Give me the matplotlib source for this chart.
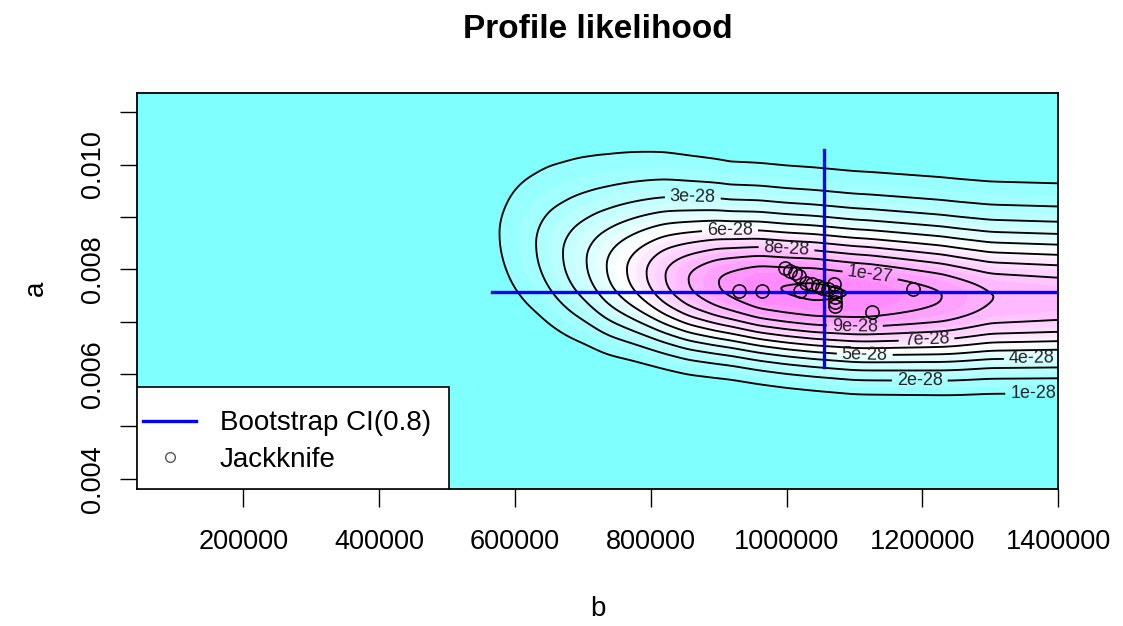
import numpy as np
import matplotlib
matplotlib.use("Agg")
import matplotlib.pyplot as plt
from matplotlib.lines import Line2D
from matplotlib.patches import Rectangle

plt.rcParams["font.family"] = ["Liberation Sans", "DejaVu Sans"]

# ridge of the profile likelihood surface (z in units of 1e-28)
ridge_b = [450e3, 520e3, 579e3, 632e3, 671e3, 706e3, 735e3, 765e3, 794e3, 821e3,
           855e3, 899e3, 960e3, 1040e3, 1120e3, 1230e3, 1300e3, 1400e3]
ridge_z = [0.05, 0.4, 1.0, 2.0, 3.0, 4.0, 5.0, 6.0, 7.0, 8.0,
           9.0, 10.0, 10.9, 11.15, 10.9, 10.0, 9.0, 8.7]
# value of a along the ridge (noses of the contours)
centre_b = [450e3, 579e3, 632e3, 671e3, 706e3, 735e3, 765e3, 794e3, 821e3, 855e3,
            899e3, 1000e3, 1100e3, 1250e3, 1400e3]
centre_a = [0.0090, 0.0087, 0.0085, 0.00831, 0.00818, 0.00807, 0.00800, 0.00794, 0.00788, 0.00781,
            0.00776, 0.00763, 0.00754, 0.00748, 0.00747]
# spread of the surface in a, above and below the ridge
width_b = [450e3, 620e3, 700e3, 770e3, 820e3, 917e3, 1100e3, 1400e3]
width_up = [0.00100, 0.00098, 0.00095, 0.00093, 0.00092, 0.00089, 0.00088, 0.00087]
width_down = [0.00122, 0.00116, 0.00104, 0.00097, 0.00095, 0.00093, 0.00096, 0.00096]
skew_up = [0.12, 0.12, 0.12, 0.11, 0.10, 0.08, 0.08, 0.08]
power_down = 2.25

b_range = (43000, 1400000)
a_range = (0.0038, 0.01136)

line_levels = [1.0, 2.0, 3.0, 4.0, 5.0, 6.0, 7.0, 8.0, 9.0, 10.0, 11.0]
# where each contour label sits (None: no label)
label_b = [1363000, 1196000, 862000, 1361000, 1115000, 916600, 1206000, 1000000, 1100500, 1122800, None]
label_a = [0.00567, 0.0059, 0.009477, 0.006315, 0.0064, 0.008828, 0.006666, 0.008433, 0.00692, 0.007874, None]

# bootstrap CI(0.8) and point estimate
est_b = 1055500
est_a = 0.007574
boot_b = [565700, 1460000]
boot_a = [0.00614, 0.01028]

# jackknife estimates
jack_b = [930000, 964000, 998000, 1005000, 1012000, 1018000, 1020000, 1028000, 1037000,
          1046000, 1052000, 1061000, 1070000, 1071000, 1071000, 1071000, 1071000, 1126000, 1186000]
jack_a = [0.00759, 0.00759, 0.00803, 0.00797, 0.00793, 0.00787, 0.00759, 0.00774, 0.00772,
          0.00768, 0.00765, 0.00763, 0.00772, 0.00757, 0.00747, 0.00738, 0.0073, 0.00719, 0.00763]

xticks = [200000, 400000, 600000, 800000, 1000000, 1200000, 1400000]
yticks = [0.004, 0.005, 0.006, 0.007, 0.008, 0.009, 0.010, 0.011]
ytick_labels = ["0.004", "", "0.006", "", "0.008", "", "0.010", ""]


def smooth(y, n=15):
    w = np.hanning(n)
    w = w / w.sum()
    return np.convolve(np.pad(y, n // 2, mode="edge"), w, mode="valid")


def cm_colors(n):
    # same as R's cm.colors()
    k = n // 2
    even = n % 2 == 0
    s1 = np.linspace(0.5, 0.5 / k if even else 0.0, k + 1 - even)
    s2 = np.linspace(0.0, 0.5, n - k + even)[1:]
    return [(1 - s, 1, 1) for s in s1] + [(1, 1 - s, 1) for s in s2]


bb = np.linspace(b_range[0], b_range[1], 500)
aa = np.linspace(a_range[0], a_range[1], 320)
peak = smooth(np.interp(bb, ridge_b, ridge_z))
centre = smooth(np.interp(bb, centre_b, centre_a))
s_up = smooth(np.interp(bb, width_b, width_up))
s_dn = smooth(np.interp(bb, width_b, width_down))
k_up = np.interp(bb, width_b, skew_up)

B, A = np.meshgrid(bb, aa)
d = A - centre[None, :]
u_up = d / s_up[None, :]
u_up = u_up / (1 + k_up[None, :] * np.abs(u_up))
u_dn = np.abs(d) / s_dn[None, :]
expo = np.where(d > 0, 0.5 * u_up ** 2, 0.5 * u_dn ** power_down)
Z = peak[None, :] * np.exp(-expo)

fill_levels = np.arange(0, 12.0, 0.5)
fill_colors = cm_colors(len(fill_levels) - 1)
fill_colors[1] = fill_colors[0]  # plain background below the outer contour

fig = plt.figure(figsize=(11.23, 6.26), dpi=100)
ax = fig.add_axes([0.12173, 0.21837, 0.82066, 0.63259])

ax.contourf(B, A, Z, levels=fill_levels, colors=fill_colors)
for lev, xb, ya in zip(line_levels, label_b, label_a):
    cs = ax.contour(B, A, Z, levels=[lev], colors="black", linewidths=1.35)
    if xb is not None:
        ax.clabel(cs, fmt=lambda v: f"{v * 1e-28:.0e}", manual=[(xb, ya)],
                  inline=True, inline_spacing=5, fontsize=13, colors="#222222")

ax.plot(boot_b, [est_a, est_a], color="#0000FF", lw=2.4, zorder=4)
ax.plot([est_b, est_b], boot_a, color="#0000FF", lw=2.4, zorder=4)
ax.plot(jack_b, jack_a, ls="none", marker="o", ms=9.5, mfc="none", mec="black", mew=1.1, zorder=4)

ax.set_xlim(b_range)
ax.set_ylim(a_range)
ax.set_xticks(xticks)
ax.set_xticklabels([str(t) for t in xticks])
ax.set_yticks(yticks)
ax.set_yticklabels(ytick_labels, rotation=90, va="center")
ax.tick_params(direction="out", length=12.6, width=1.0, labelsize=19.5, colors="black")
ax.tick_params(axis="x", pad=16)
ax.tick_params(axis="y", pad=9.5)
for sp in ax.spines.values():
    sp.set_linewidth(1.3)

# legend box like R's legend(): white frame in the lower left corner
ax.add_patch(Rectangle((0, 0), 0.3392, 0.2576, transform=ax.transAxes, facecolor="white",
                       edgecolor="black", lw=1.2, zorder=5))
handles = [Line2D([], [], color="#0000FF", lw=2.4),
           Line2D([], [], ls="none", marker="o", mfc="none", mec="#555555", ms=7, mew=1.0)]
leg = ax.legend(handles, ["Bootstrap CI(0.8)", "Jackknife"], loc="center left",
                bbox_to_anchor=(0.0072, 0.121), borderaxespad=0, borderpad=0, frameon=False,
                fontsize=20, handlelength=1.9, handletextpad=0.86, labelspacing=0.37)
leg.set_zorder(6)

fig.text(597.5 / 1123, 1 - 38.5 / 626, "Profile likelihood", ha="center", va="baseline",
         fontsize=24, fontweight="bold")
fig.text(597.5 / 1123, 1 - 616 / 626, "b", ha="center", va="baseline", fontsize=20)
fig.text(36 / 1123, 1 - 288 / 626, "a", ha="center", va="center", rotation=90, fontsize=20)

fig.savefig("out.png", dpi=100)
